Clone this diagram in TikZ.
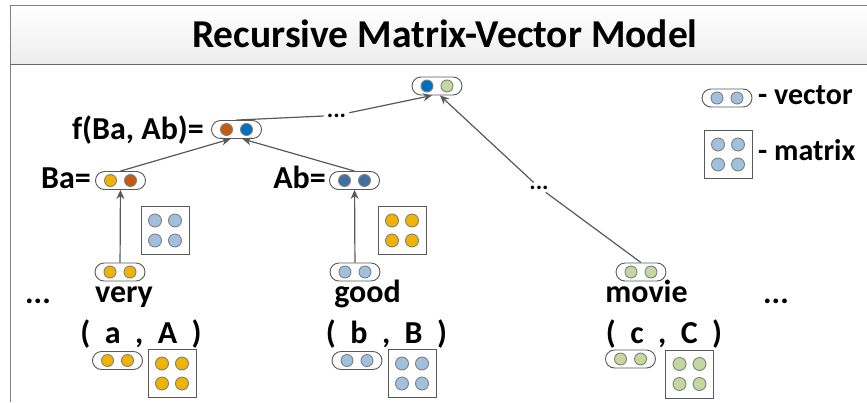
\documentclass[tikz,border=0pt]{standalone}
\usepackage{fontspec}
\setmainfont{Carlito}
\usepackage{xcolor}
\usetikzlibrary{arrows.meta,positioning}
\definecolor{cyel}{RGB}{240,180,0}
\definecolor{cbrn}{RGB}{197,90,17}
\definecolor{cblu}{RGB}{0,112,192}
\definecolor{cstl}{RGB}{64,112,160}
\definecolor{clbl}{RGB}{160,192,222}
\definecolor{cgrn}{RGB}{198,214,160}
\definecolor{cline}{RGB}{89,89,89}
\tikzset{
  vec/.style 2 args={draw=cline,line width=0.9pt,rounded corners=9pt,minimum width=50pt,minimum height=18pt,inner sep=0pt,
    path picture={
      \filldraw[draw=gray,fill=#1] ([xshift=-10pt]path picture bounding box.center) circle (6pt);
      \filldraw[draw=gray,fill=#2] ([xshift=10pt]path picture bounding box.center) circle (6pt);}},
  mat/.style={draw=cline,line width=0.9pt,minimum size=48pt,inner sep=0pt,
    path picture={
      \foreach \dx in {-10,10} \foreach \dy in {-10,10}
        \filldraw[draw=gray,fill=#1] ([shift={(\dx pt,\dy pt)}]path picture bounding box.center) circle (6.5pt);}},
  word/.style={anchor=base,font=\fontsize{32}{36}\selectfont\bfseries,inner sep=0pt},
  legword/.style={anchor=base west,font=\fontsize{30}{34}\selectfont\bfseries,inner sep=0pt},
  dots/.style={anchor=base,font=\fontsize{24}{28}\selectfont\bfseries,inner sep=3pt},
  link/.style={draw=cline,line width=1.2pt}
}
\begin{document}
\begin{tikzpicture}[x=1pt,y=-1pt,>={Stealth[length=9pt,width=8pt]}]
\useasboundingbox (0,0) rectangle (867,402);
\fill[white] (0,0) rectangle (867,402);
% frame and title
\shade[top color=white,bottom color=gray!14] (10,5) rectangle (867,64);
\draw[gray,line width=1pt] (10,402) -- (10,5) -- (867,5);
\draw[gray!80!black,line width=1pt] (10,64) -- (867,64);
\node[anchor=base,inner sep=0pt,font=\fontsize{39.5}{44}\selectfont\bfseries] (title) at (445,47){Recursive Matrix-Vector Model};
% vectors
\node[vec={cblu}{cgrn}] (top) at (437,86 ){};
\node[vec={cbrn}{cblu}] (fv) at (236.5,129.5 ){};
\node[vec={cyel}{cbrn}] (ba) at (120.5,180.5 ){};
\node[vec={cstl}{cstl}] (ab) at (354.5,180.5 ){};
\node[vec={cyel}{cyel}] (very) at (120,272 ){};
\node[vec={clbl}{clbl}] (good) at (355,272 ){};
\node[vec={cgrn}{cgrn}] (movie) at (641,272 ){};
\node[vec={cyel}{cyel}] (va) at (117.5,360.5 ){};
\node[vec={clbl}{clbl}] (vb) at (357,360.5 ){};
\node[vec={cgrn}{cgrn}] (vc) at (630.5,359 ){};
\node[vec={clbl}{clbl}] (legv) at (727,98 ){};
% matrices
\node[mat=clbl] (mba) at (165,230.5 ){};
\node[mat=cyel] (mab) at (402,230.5 ){};
\node[mat=cyel] (ma) at (172,373.5 ){};
\node[mat=clbl] (mb) at (412,373.5 ){};
\node[mat=cgrn] (mc) at (689.5,374 ){};
\node[mat=clbl] (legm) at (728,154.5 ){};
% labels
\node[word,anchor=base east] (lf) at (204,139 ){f(Ba, Ab)=};
\node[word,anchor=base east] (lba) at (91,188 ){Ba=};
\node[word,anchor=base east] (lab) at (326,188 ){Ab=};
\node[word] (wvery) at (124,302 ){very};
\node[word] (wgood) at (367.5,302 ){good};
\node[word] (wmovie) at (646.5,302 ){movie};
\node[word] (pa) at (141,343 ){(~~a~~,~~A~~)};
\node[word] (pb) at (386.5,343 ){(~~b~~,~~B~~)};
\node[word] (pc) at (664,343 ){(~~c~~,~~C~~)};
\node[word] (dl) at (38,303 ){...};
\node[word] (dr) at (776,303 ){...};
\node[dots] (d1) at (336.5,117 ){...};
\node[dots] (d2) at (539,189 ){...};
\node[legword] (tv) at (758,104 ){- vector};
\node[legword] (tm) at (758,160 ){- matrix};
% connectors
    \draw[link,->] (very) to (ba);
      \draw[link,->] (good) to (ab);
        \draw[link,->] (ba.north) to ([xshift=-6pt]fv.south);
          \draw[link,->] (ab.north) to ([xshift=6pt]fv.south);
            \draw[link] (fv.north) to (d1);
              \draw[link,->] (d1) to ([xshift=-5pt]top.south);
            \draw[link] (movie.north) to (d2);
              \draw[link,->] (d2) to ([xshift=3pt]top.south);
\end{tikzpicture}
\end{document}
